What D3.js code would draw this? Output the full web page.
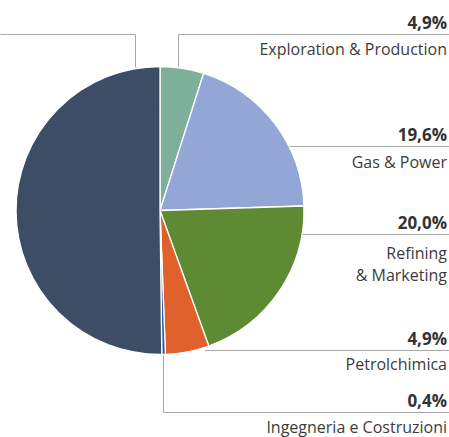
<!DOCTYPE html>
<html><head><meta charset="utf-8">
<script src="https://cdn.jsdelivr.net/npm/d3@7"></script>
<style>body{margin:0;background:#fff}svg{display:block}</style>
</head><body>
<svg id="c" width="449" height="437"></svg>
<script>
// Data
const categories = ["Exploration & Production","Gas & Power","Refining & Marketing","Petrolchimica","Ingegneria e Costruzioni","Altro"];
const values = [4.9, 19.6, 20.0, 4.9, 0.4, 50.2];
const percentLabels = ["4,9%","19,6%","20,0%","4,9%","0,4%",""];
const nameLines = [["Exploration & Production"],["Gas & Power"],["Refining","& Marketing"],["Petrolchimica"],["Ingegneria e Costruzioni"],[]];
const colors = ["#7fae9a","#93a6d6","#5d8a32","#e0612b","#2f55a5","#3d4d66"];

// Layout
const W = 449, cx = 160, cy = 210.5, R = 144, textX = 447;
const lineY = [34, 146, 234, 350, 412, 34];
const nameOffset = [21, 22, 25, 20, 21, 0];
const elbowX = [178, null, null, null, 163, 135];

const svg = d3.select("#c");
const pie = d3.pie().sort(null).value(d => d)(values);
const arc = d3.arc().innerRadius(0).outerRadius(R);
const g = svg.append("g").attr("transform", `translate(${cx},${cy})`);
g.selectAll("path").data(pie).join("path")
  .attr("d", arc).attr("fill", (d,i) => colors[i])
  .attr("stroke", "#fff").attr("stroke-width", 1.3).attr("stroke-linejoin","round");

// Leader lines
const lg = svg.append("g").attr("stroke", "#a9a9a9").attr("stroke-width", 1).attr("fill", "none");
categories.forEach((c, i) => {
  const y = lineY[i];
  let pts;
  if (elbowX[i] != null) {
    const ex = elbowX[i];
    const dx = ex - cx;
    const edgeY = cy + (i === 4 ? 1 : -1) * Math.sqrt(R*R - dx*dx) + (i === 4 ? 1 : -2);
    const endX = i === 5 ? 0 : W;
    pts = [[ex, edgeY], [ex, y], [endX, y]];
  } else {
    const dy = y - cy;
    const edgeX = cx + Math.sqrt(R*R - dy*dy) + (i === 3 ? 8 : 0);
    pts = [[edgeX, y], [W, y]];
  }
  lg.append("path").attr("d", d3.line()(pts.map(p => [Math.round(p[0])+0.5, Math.round(p[1])+0.5])));
});

// Labels
const tg = svg.append("g").attr("font-family", "'Open Sans', sans-serif").attr("fill", "#333").attr("text-anchor", "end");
categories.forEach((c, i) => {
  if (!percentLabels[i]) return;
  const y = lineY[i];
  tg.append("text").attr("x", textX).attr("y", y - 5).attr("font-size", 17).attr("font-weight", "bold").text(percentLabels[i]);
  nameLines[i].forEach((t, j) => {
    tg.append("text").attr("x", textX).attr("y", y + nameOffset[i] + j * 22).attr("font-size", 16).attr("fill", "#3c3c3c").text(t);
  });
});
</script>
</body></html>
